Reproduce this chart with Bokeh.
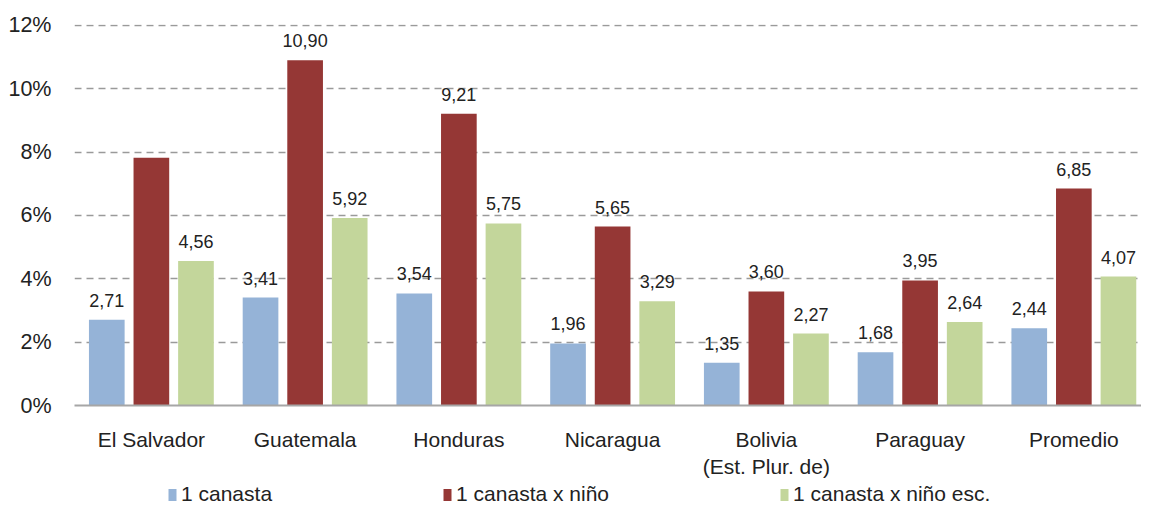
from bokeh.plotting import figure
from bokeh.layouts import column
from bokeh.models import ColumnDataSource, FixedTicker, Legend, LegendItem, Range1d
from bokeh.core.properties import value
from bokeh.embed import file_html
from bokeh.resources import INLINE

categories = ["El Salvador", "Guatemala", "Honduras", "Nicaragua", "Bolivia\n(Est. Plur. de)", "Paraguay", "Promedio"]
series_names = ["1 canasta", "1 canasta x niño", "1 canasta x niño esc."]
canasta = [2.71, 3.41, 3.54, 1.96, 1.35, 1.68, 2.44]
canasta_nino = [7.82, 10.90, 9.21, 5.65, 3.60, 3.95, 6.85]
canasta_nino_esc = [4.56, 5.92, 5.75, 3.29, 2.27, 2.64, 4.07]
show_label_nino = [False, True, True, True, True, True, True]
y_ticks = [0, 2, 4, 6, 8, 10, 12]
y_tick_labels = ["0%", "2%", "4%", "6%", "8%", "10%", "12%"]

colors = ["#95B3D7", "#953735", "#C3D69B"]
offsets = [-0.29, 0.0, 0.29]
FONT = "Liberation Sans"
TXT = "#222222"

p = figure(width=1141, height=481, output_backend="svg", toolbar_location=None,
           x_range=Range1d(-0.5, 6.44), y_range=Range1d(0, 12.03),
           min_border_left=74, min_border_right=0, min_border_top=24, min_border_bottom=67)
p.outline_line_color = None
p.background_fill_color = "white"

all_series = [canasta, canasta_nino, canasta_nino_esc]
for i, vals in enumerate(all_series):
    xs = [k + offsets[i] for k in range(len(categories))]
    labels = [f"{v:.2f}".replace(".", ",") for v in vals]
    if i == 1:
        labels = [lab if s else "" for lab, s in zip(labels, show_label_nino)]
    src = ColumnDataSource(dict(x=xs, top=vals, label=labels))
    p.vbar(x="x", top="top", width=0.232, source=src, fill_color=colors[i], line_color=None)
    p.text(x="x", y="top", text="label", source=src, text_align="center", text_baseline="bottom",
           y_offset=-13, text_font=value(FONT), text_font_size="18px", text_color=TXT)

p.xaxis.ticker = FixedTicker(ticks=list(range(len(categories))))
p.xaxis.major_label_overrides = {k: c for k, c in enumerate(categories)}
p.xaxis.major_tick_line_color = None
p.xaxis.minor_tick_line_color = None
p.xaxis.axis_line_color = "#A6A6A6"
p.xaxis.axis_line_width = 2
p.xaxis.major_label_text_font = FONT
p.xaxis.major_label_text_font_size = "21px"
p.xaxis.major_label_text_color = TXT
p.xaxis.major_label_standoff = 16

p.yaxis.ticker = FixedTicker(ticks=y_ticks)
p.yaxis.major_label_overrides = {t: l for t, l in zip(y_ticks, y_tick_labels)}
p.yaxis.axis_line_color = None
p.yaxis.major_tick_line_color = None
p.yaxis.minor_tick_line_color = None
p.yaxis.major_label_text_font = FONT
p.yaxis.major_label_text_font_size = "21.5px"
p.yaxis.major_label_text_color = TXT
p.yaxis.major_label_standoff = 17

p.xgrid.grid_line_color = None
p.ygrid.grid_line_color = "#9A9A9A"
p.ygrid.grid_line_dash = "7 5"
p.ygrid.grid_line_width = 1.5

# legend strip
lg = figure(width=1141, height=25, output_backend="svg", toolbar_location=None,
            x_range=Range1d(0, 1), y_range=Range1d(0, 1), x_axis_type=None, y_axis_type=None,
            min_border_left=0, min_border_right=0, min_border_top=0, min_border_bottom=0)
lg.grid.visible = False
lg.outline_line_color = None
legend_renderers = []
for c in colors:
    legend_renderers.append(lg.vbar(x=[5], top=[1], width=0.1, fill_color=c, line_color=None))
legend = Legend(items=[LegendItem(label=n, renderers=[r]) for n, r in zip(series_names, legend_renderers)],
                orientation="horizontal", location=(93, 0), spacing=170,
                glyph_width=10, glyph_height=15, label_standoff=4, padding=0, margin=0,
                border_line_color=None, background_fill_alpha=0,
                label_text_font=FONT, label_text_font_size="21px", label_text_color=TXT)
lg.add_layout(legend, "center")

layout = column(p, lg, spacing=0)
open("out.html", "w").write(file_html(layout, INLINE))
